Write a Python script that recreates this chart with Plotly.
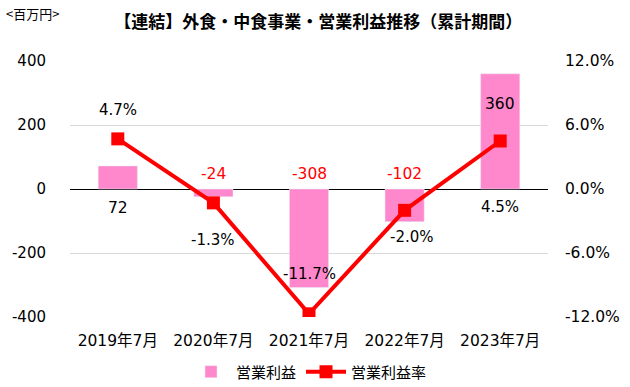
import plotly.graph_objects as go

categories = ["2019年7月", "2020年7月", "2021年7月", "2022年7月", "2023年7月"]
profit = [72, -24, -308, -102, 360]
rate = [4.7, -1.3, -11.7, -2.0, 4.5]
left_ticks = [400, 200, 0, -200, -400]
right_ticks = [12.0, 6.0, 0.0, -6.0, -12.0]

FONT = "DejaVu Sans, Noto Sans CJK JP, sans-serif"
JP = "Noto Sans CJK JP, sans-serif"

fig = go.Figure()
fig.add_trace(go.Bar(x=categories, y=profit, name="営業利益", marker_color="#FF88CC",
                     width=0.41, yaxis="y"))
fig.add_trace(go.Scatter(x=categories, y=rate, name="営業利益率", mode="lines+markers",
                         line=dict(color="#FF0000", width=4),
                         marker=dict(symbol="square", size=13, color="#FF0000"),
                         yaxis="y2"))

# bar value labels (anchored at zero line, except the top one inside the bar)
bar_anchor_top = [False, False, False, False, True]
bar_shift = [-19, 15, 15, 15, -30]
bar_color = ["#000000", "#FF0000", "#FF0000", "#FF0000", "#000000"]
for i, (c, v) in enumerate(zip(categories, profit)):
    yv = v if bar_anchor_top[i] else 0
    fig.add_annotation(x=c, y=yv, yref="y", text=str(v), showarrow=False,
                       yshift=bar_shift[i], font=dict(size=15.5, color=bar_color[i], family=FONT))

# rate labels
rate_anchor_zero = [False, False, False, False, True]
rate_shift = [(0, 29), (0, -37), (0, 40), (7, -27), (0, -18)]
for i, (c, v) in enumerate(zip(categories, rate)):
    yv = 0 if rate_anchor_zero[i] else v
    fig.add_annotation(x=c, y=yv, yref="y2", text=f"{v:.1f}%", showarrow=False,
                       xshift=rate_shift[i][0], yshift=rate_shift[i][1],
                       font=dict(size=15, color="#000000", family=FONT))

fig.add_annotation(xref="paper", yref="paper", x=-0.138, y=1.185, xanchor="left", yanchor="middle",
                   text="<百万円>", showarrow=False, font=dict(size=13, color="#000", family=JP))

fig.update_layout(
    width=630, height=387,
    margin=dict(l=70, r=82, t=61, b=70, autoexpand=False),
    paper_bgcolor="white", plot_bgcolor="white",
    title=dict(text="<b>【連結】外食・中食事業・営業利益推移（累計期間）</b>", x=0.505, xanchor="center",
               y=0.943, yanchor="middle", font=dict(size=17, color="#000", family=JP)),
    font=dict(family=FONT, size=14, color="#000"),
    showlegend=True,
    legend=dict(orientation="h", x=0.5, xanchor="center", y=-0.15, yanchor="top",
                font=dict(size=15, family=JP), itemwidth=40),
    xaxis=dict(showline=False, ticks="", tickfont=dict(size=15.5, family=FONT), automargin=False,
               ticklabelstandoff=12),
    yaxis=dict(range=[-400, 400], tickvals=left_ticks, ticktext=[str(t) for t in left_ticks],
               showgrid=True, gridcolor="#D9D9D9", gridwidth=1, zeroline=True,
               zerolinecolor="#000000", zerolinewidth=1, ticks="", tickfont=dict(size=15),
               ticklabelstandoff=23, automargin=False),
    yaxis2=dict(range=[-12, 12], overlaying="y", side="right", tickvals=right_ticks,
                ticktext=[f"{t:.1f}%" for t in right_ticks], showgrid=False, zeroline=False,
                ticks="", tickfont=dict(size=15.5), ticklabelstandoff=16, automargin=False),
)

fig.write_html("out.html", config={"displayModeBar": False},
               post_script="document.body.style.margin='0px';document.body.style.overflow='hidden';")
